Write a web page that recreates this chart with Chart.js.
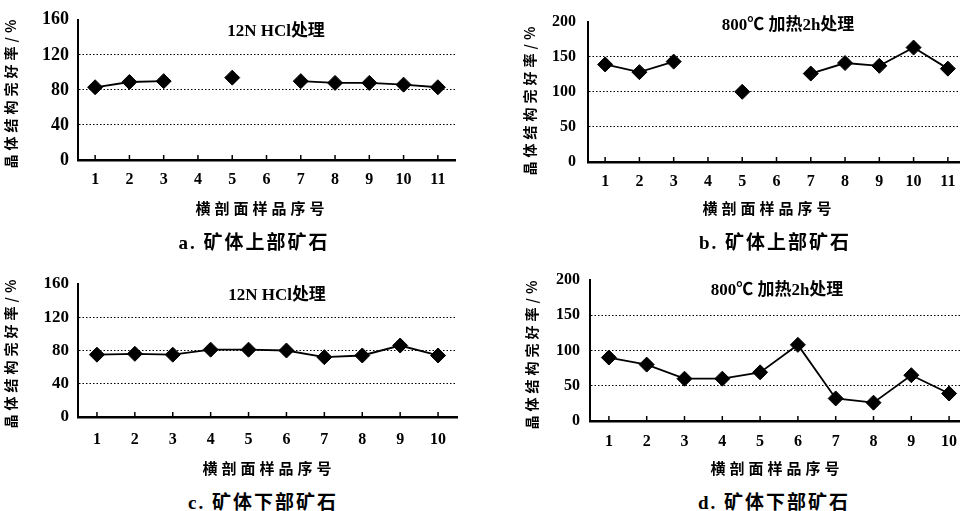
<!DOCTYPE html>
<html>
<head>
<meta charset="utf-8">
<script src="https://cdn.jsdelivr.net/npm/chart.js@4"></script>
<style>
  html, body { margin: 0; padding: 0; background: #fff; width: 960px; height: 511px; overflow: hidden; position: relative; }
  .box { position: absolute; }
  .lbl { position: absolute; font-family: 'Liberation Serif', 'Noto Sans CJK SC', serif; font-weight: bold; color: #000; white-space: nowrap; transform: translate(-50%, -50%); }
  .ytitle { transform: translate(-50%, -50%) rotate(-90deg); font-size: 14px; letter-spacing: 4px; font-family: 'Noto Sans CJK SC', sans-serif; }
  .xtitle { font-size: 15px; letter-spacing: 4px; font-family: 'Noto Sans CJK SC', sans-serif; }
  .cap { font-size: 19px; letter-spacing: 2px; }
  .ptitle { font-size: 17px; }
</style>
</head>
<body>
<div class="box" style="left:0;top:0;"><canvas id="ca" width="480" height="200"></canvas></div>
<div class="box" style="left:480px;top:0;"><canvas id="cb" width="500" height="200"></canvas></div>
<div class="box" style="left:0;top:260px;"><canvas id="cc" width="480" height="200"></canvas></div>
<div class="box" style="left:480px;top:260px;"><canvas id="cd" width="500" height="200"></canvas></div>

<div class="lbl ptitle" style="left:276px;top:28px;">12N HCl处理</div>
<div class="lbl ptitle" style="left:788px;top:22px;">800℃ 加热2h处理</div>
<div class="lbl ptitle" style="left:277px;top:292px;">12N HCl处理</div>
<div class="lbl ptitle" style="left:777px;top:287px;">800℃ 加热2h处理</div>

<div class="lbl ytitle" style="left:10px;top:92px;">晶体结构完好率/%</div>
<div class="lbl ytitle" style="left:529px;top:99px;">晶体结构完好率/%</div>
<div class="lbl ytitle" style="left:10px;top:352px;">晶体结构完好率/%</div>
<div class="lbl ytitle" style="left:531px;top:353px;">晶体结构完好率/%</div>

<div class="lbl xtitle" style="left:262px;top:207px;">横剖面样品序号</div>
<div class="lbl xtitle" style="left:769px;top:207px;">横剖面样品序号</div>
<div class="lbl xtitle" style="left:269px;top:467px;">横剖面样品序号</div>
<div class="lbl xtitle" style="left:777px;top:467px;">横剖面样品序号</div>

<div class="lbl cap" style="left:254px;top:240px;">a. 矿体上部矿石</div>
<div class="lbl cap" style="left:775px;top:240px;">b. 矿体上部矿石</div>
<div class="lbl cap" style="left:263px;top:500px;">c. 矿体下部矿石</div>
<div class="lbl cap" style="left:774px;top:500px;">d. 矿体下部矿石</div>

<script>
// sample numbers
const labelsTop = ['1', '2', '3', '4', '5', '6', '7', '8', '9', '10', '11'];
const labelsBottom = ['1', '2', '3', '4', '5', '6', '7', '8', '9', '10'];

// 晶体结构完好率 (%), upper ore body
const hclTop = [83, 89, 90, null, 94, null, 90, 88, 88, 86, 83];
const heatTop = [139, 128, 143, null, 100, null, 126, 141, 137, 163, 133];

// lower ore body
const hclBottom = [75, 76, 75, 81, 81, 80, 72, 74, 86, 74];
const heatBottom = [90, 80, 60, 60, 69, 108, 32, 26, 65, 39];

// y tick values
const hclTicks = [0, 40, 80, 120, 160];
const heatTicks = [0, 50, 100, 150, 200];

// small tick marks pointing up into the plot
const innerTicks = {
  id: 'innerTicks',
  afterDraw(chart) {
    const x = chart.scales.x, y = chart.scales.y, ctx = chart.ctx;
    ctx.save();
    ctx.strokeStyle = '#000';
    ctx.lineWidth = 1.5;
    x.ticks.forEach((t, i) => {
      const px = x.getPixelForTick(i);
      ctx.beginPath();
      ctx.moveTo(px, y.bottom);
      ctx.lineTo(px, y.bottom - 5);
      ctx.stroke();
    });
    ctx.restore();
  }
};

function makeChart(id, labels, values, ticks, lay) {
  const ctx = document.getElementById(id).getContext('2d');
  const top = ticks[ticks.length - 1];
  return new Chart(ctx, {
    type: 'line',
    data: {
      labels: labels,
      datasets: [{
        data: values,
        borderColor: '#000',
        backgroundColor: '#000',
        borderWidth: 1.8,
        pointStyle: 'rectRot',
        pointRadius: 7.5,
        pointBorderWidth: 1,
        spanGaps: false,
        tension: 0
      }]
    },
    options: {
      responsive: false,
      animation: false,
      events: [],
      layout: { padding: { left: 0, top: lay.top, right: lay.right, bottom: 0 } },
      plugins: { legend: { display: false }, tooltip: { enabled: false } },
      scales: {
        x: {
          offset: true,
          grid: { display: false, drawTicks: false },
          border: { display: true, color: '#000', width: 2.5 },
          ticks: {
            color: '#000',
            padding: lay.tickPad,
            font: { family: "'Liberation Serif', serif", weight: 'bold', size: 16 }
          },
          afterFit: s => { s.height = lay.xHeight; }
        },
        y: {
          min: ticks[0],
          max: top,
          grid: {
            drawTicks: false,
            lineWidth: 1,
            color: c => (c.tick && c.tick.value > ticks[0] && c.tick.value < top) ? '#000' : 'rgba(0,0,0,0)'
          },
          border: { display: true, color: '#000', width: 2, dash: [1.5, 2] },
          ticks: {
            stepSize: ticks[1] - ticks[0],
            color: '#000',
            padding: lay.yPad,
            font: { family: "'Liberation Serif', serif", weight: 'bold', size: lay.ySize }
          },
          afterFit: s => { s.width = lay.yWidth; }
        }
      }
    },
    plugins: [innerTicks]
  });
}

makeChart('ca', labelsTop, hclTop, hclTicks,
  { yWidth: 78, xHeight: 40, top: 17, right: 25, tickPad: 10, yPad: 9, ySize: 18 });
makeChart('cb', labelsTop, heatTop, heatTicks,
  { yWidth: 108, xHeight: 38, top: 16, right: 15, tickPad: 10, yPad: 12, ySize: 16 });
makeChart('cc', labelsBottom, hclBottom, hclTicks,
  { yWidth: 78, xHeight: 43, top: 24, right: 23, tickPad: 13, yPad: 9, ySize: 17 });
makeChart('cd', labelsBottom, heatBottom, heatTicks,
  { yWidth: 110, xHeight: 39, top: 20, right: 12, tickPad: 11, yPad: 10, ySize: 16 });
</script>
</body>
</html>
